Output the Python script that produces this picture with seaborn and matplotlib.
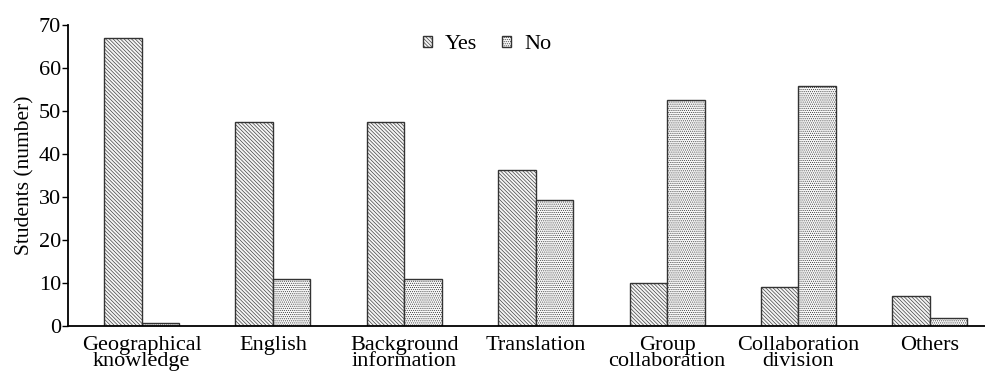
import matplotlib
matplotlib.use("Agg")
import matplotlib.pyplot as plt
import seaborn as sns
import pandas as pd
from matplotlib.patches import Patch

categories = ["Geographical\nknowledge", "English", "Background\ninformation",
              "Translation", "Group\ncollaboration", "Collaboration\ndivision", "Others"]
yes_values = [67, 47.5, 47.5, 36.3, 10, 9, 7]
no_values = [0.8, 11, 11, 29.2, 52.6, 55.7, 1.8]
series = ["Yes", "No"]
y_ticks = [0, 10, 20, 30, 40, 50, 60, 70]

df = pd.DataFrame({
    "category": categories * 2,
    "answer": ["Yes"] * len(categories) + ["No"] * len(categories),
    "value": yes_values + no_values,
})

sns.set_theme(style="white")
plt.rcParams["font.family"] = ["Liberation Serif", "DejaVu Serif"]
plt.rcParams["hatch.linewidth"] = 0.45
plt.rcParams["text.color"] = "black"
plt.rcParams["axes.labelcolor"] = "black"
plt.rcParams["xtick.color"] = "black"
plt.rcParams["ytick.color"] = "black"

fig = plt.figure(figsize=(9.85, 3.71), dpi=100)
ax = fig.add_axes([0.069, 0.121, 0.931, 0.812])

sns.barplot(data=df, x="category", y="value", hue="answer", hue_order=series,
            order=categories, palette=["white", "white"], width=0.57,
            edgecolor="#333333", linewidth=1.0, legend=False, ax=ax, saturation=1)

hatches = ["\\" * 9, "........"]
faces = ["#f4f4f4", "#f8f8f8"]
hatch_col = "#666666"


def style_patch(p, h, fc):
    p.set_hatch(h)
    p.set_facecolor(fc)
    p.set_edgecolor("#333333")
    try:
        p.set_hatchcolor(hatch_col)
    except AttributeError:
        pass


for cont, h, fc in zip(ax.containers, hatches, faces):
    for bar in cont:
        style_patch(bar, h, fc)

ax.set_ylim(0, 70)
ax.set_xlim(-0.56, 6.42)
ax.set_yticks(y_ticks)
ax.set_yticklabels([str(t) for t in y_ticks], fontsize=16, color="black")
ax.set_xlabel("")
ax.set_ylabel("Students (number)", fontsize=15.5, labelpad=3, color="black")
ax.tick_params(axis="y", which="both", left=True, length=4, width=1, direction="out", pad=1,
               color="black", labelcolor="black")
ax.tick_params(axis="x", bottom=False, pad=1, labelcolor="black")
for lbl in ax.get_xticklabels():
    lbl.set_fontsize(16)
    lbl.set_linespacing(0.8)
    lbl.set_color("black")

for side in ["top", "right"]:
    ax.spines[side].set_visible(False)
for side in ["left", "bottom"]:
    ax.spines[side].set_color("black")
    ax.spines[side].set_linewidth(1.3)

handles = []
for i in range(2):
    p = Patch(label=series[i])
    style_patch(p, hatches[i], faces[i])
    handles.append(p)
leg = ax.legend(handles=handles, loc="center", bbox_to_anchor=(0.457, 0.934), ncol=2,
                frameon=False, fontsize=16, handlelength=0.4, handleheight=0.4,
                handletextpad=0.6, columnspacing=1.1, borderpad=0.1)
for t in leg.get_texts():
    t.set_color("black")

fig.savefig("out.png", dpi=100)
